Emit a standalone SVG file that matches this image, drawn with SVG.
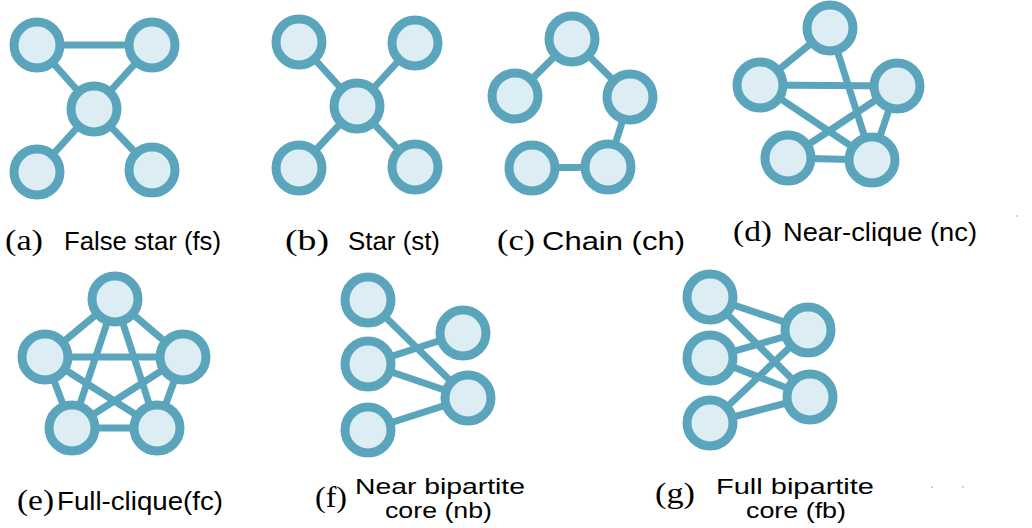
<svg xmlns="http://www.w3.org/2000/svg" width="1032" height="528" viewBox="0 0 1032 528">
<style>
.n{fill:#dcedf3;stroke:#5ba5bc;stroke-width:9}
.e{stroke:#5ba5bc;stroke-width:7;stroke-linecap:butt}
.s{font-family:"Liberation Serif",serif;font-size:29px;fill:#000}
.t{font-family:"Liberation Sans",sans-serif;font-size:25px;fill:#000}
.t2{font-family:"Liberation Sans",sans-serif;font-size:22px;fill:#000}
.dot{fill:#9a9a9a}
</style>
<rect width="1032" height="528" fill="#fff"/>
<g id="connectors">
<line class="e" x1="37" y1="45" x2="152" y2="45"/>
<line class="e" x1="37" y1="45" x2="94" y2="109"/>
<line class="e" x1="152" y1="45" x2="94" y2="109"/>
<line class="e" x1="94" y1="109" x2="37" y2="172"/>
<line class="e" x1="94" y1="109" x2="152" y2="170"/>
<line class="e" x1="299" y1="42" x2="357" y2="106"/>
<line class="e" x1="415" y1="43" x2="357" y2="106"/>
<line class="e" x1="357" y1="106" x2="299" y2="168"/>
<line class="e" x1="357" y1="106" x2="415" y2="167"/>
<line class="e" x1="515" y1="96" x2="572" y2="39"/>
<line class="e" x1="572" y1="39" x2="630" y2="97"/>
<line class="e" x1="630" y1="97" x2="608" y2="167"/>
<line class="e" x1="608" y1="167" x2="532" y2="168"/>
<line class="e" x1="830" y1="28" x2="760" y2="85"/>
<line class="e" x1="830" y1="28" x2="872" y2="160"/>
<line class="e" x1="760" y1="85" x2="897" y2="86"/>
<line class="e" x1="760" y1="85" x2="872" y2="160"/>
<line class="e" x1="897" y1="86" x2="788" y2="158"/>
<line class="e" x1="897" y1="86" x2="872" y2="160"/>
<line class="e" x1="788" y1="158" x2="872" y2="160"/>
<line class="e" x1="115" y1="299" x2="45" y2="357"/>
<line class="e" x1="115" y1="299" x2="183" y2="357"/>
<line class="e" x1="115" y1="299" x2="72" y2="428"/>
<line class="e" x1="115" y1="299" x2="157" y2="428"/>
<line class="e" x1="45" y1="357" x2="183" y2="357"/>
<line class="e" x1="45" y1="357" x2="72" y2="428"/>
<line class="e" x1="45" y1="357" x2="157" y2="428"/>
<line class="e" x1="183" y1="357" x2="72" y2="428"/>
<line class="e" x1="183" y1="357" x2="157" y2="428"/>
<line class="e" x1="72" y1="428" x2="157" y2="428"/>
<line class="e" x1="368" y1="300" x2="468" y2="398"/>
<line class="e" x1="368" y1="364" x2="463" y2="333"/>
<line class="e" x1="368" y1="364" x2="468" y2="398"/>
<line class="e" x1="368" y1="430" x2="468" y2="398"/>
<line class="e" x1="710" y1="297" x2="808" y2="330"/>
<line class="e" x1="710" y1="297" x2="810" y2="397"/>
<line class="e" x1="710" y1="358" x2="808" y2="330"/>
<line class="e" x1="710" y1="358" x2="810" y2="397"/>
<line class="e" x1="710" y1="423" x2="808" y2="330"/>
<line class="e" x1="710" y1="423" x2="810" y2="397"/>
</g>
<g id="a1"><circle class="n" cx="37" cy="45" r="23"/></g>
<g id="a2"><circle class="n" cx="152" cy="45" r="23"/></g>
<g id="a3"><circle class="n" cx="94" cy="109" r="23"/></g>
<g id="a4"><circle class="n" cx="37" cy="172" r="23"/></g>
<g id="a5"><circle class="n" cx="152" cy="170" r="23"/></g>
<g id="b1"><circle class="n" cx="299" cy="42" r="23"/></g>
<g id="b2"><circle class="n" cx="415" cy="43" r="23"/></g>
<g id="b3"><circle class="n" cx="357" cy="106" r="23"/></g>
<g id="b4"><circle class="n" cx="299" cy="168" r="23"/></g>
<g id="b5"><circle class="n" cx="415" cy="167" r="23"/></g>
<g id="c1"><circle class="n" cx="572" cy="39" r="23"/></g>
<g id="c2"><circle class="n" cx="630" cy="97" r="23"/></g>
<g id="c3"><circle class="n" cx="515" cy="96" r="23"/></g>
<g id="c4"><circle class="n" cx="532" cy="168" r="23"/></g>
<g id="c5"><circle class="n" cx="608" cy="167" r="23"/></g>
<g id="d1"><circle class="n" cx="830" cy="28" r="23"/></g>
<g id="d2"><circle class="n" cx="760" cy="85" r="23"/></g>
<g id="d3"><circle class="n" cx="897" cy="86" r="23"/></g>
<g id="d4"><circle class="n" cx="788" cy="158" r="23"/></g>
<g id="d5"><circle class="n" cx="872" cy="160" r="23"/></g>
<g id="e1"><circle class="n" cx="115" cy="299" r="23"/></g>
<g id="e2"><circle class="n" cx="45" cy="357" r="23"/></g>
<g id="e3"><circle class="n" cx="183" cy="357" r="23"/></g>
<g id="e4"><circle class="n" cx="72" cy="428" r="23"/></g>
<g id="e5"><circle class="n" cx="157" cy="428" r="23"/></g>
<g id="f1"><circle class="n" cx="368" cy="300" r="23"/></g>
<g id="f2"><circle class="n" cx="368" cy="364" r="23"/></g>
<g id="f3"><circle class="n" cx="368" cy="430" r="23"/></g>
<g id="f4"><circle class="n" cx="463" cy="333" r="23"/></g>
<g id="f5"><circle class="n" cx="468" cy="398" r="23"/></g>
<g id="g1"><circle class="n" cx="710" cy="297" r="23"/></g>
<g id="g2"><circle class="n" cx="710" cy="358" r="23"/></g>
<g id="g3"><circle class="n" cx="710" cy="423" r="23"/></g>
<g id="g4"><circle class="n" cx="808" cy="330" r="23"/></g>
<g id="g5"><circle class="n" cx="810" cy="397" r="23"/></g>
<g id="labels">
<text class="s" x="5" y="250" textLength="38" lengthAdjust="spacingAndGlyphs">(a)</text>
<text class="t" x="64" y="250" textLength="157" lengthAdjust="spacingAndGlyphs">False star (fs)</text>
<text class="s" x="285" y="250" textLength="44" lengthAdjust="spacingAndGlyphs">(b)</text>
<text class="t" x="348" y="250" textLength="92" lengthAdjust="spacingAndGlyphs">Star (st)</text>
<text class="s" x="497" y="250" textLength="38" lengthAdjust="spacingAndGlyphs">(c)</text>
<text class="t" x="542" y="250" textLength="143" lengthAdjust="spacingAndGlyphs">Chain (ch)</text>
<text class="s" x="733" y="241" textLength="39" lengthAdjust="spacingAndGlyphs">(d)</text>
<text class="t" x="783" y="241" textLength="194" lengthAdjust="spacingAndGlyphs">Near-clique (nc)</text>
<text class="s" x="17" y="510" textLength="37" lengthAdjust="spacingAndGlyphs">(e)</text>
<text class="t" x="57" y="510" textLength="166" lengthAdjust="spacingAndGlyphs">Full-clique(fc)</text>
<text class="s" x="315" y="507" textLength="32" lengthAdjust="spacingAndGlyphs">(f)</text>
<text class="t2" x="355" y="494" textLength="170" lengthAdjust="spacingAndGlyphs">Near bipartite</text>
<text class="t2" x="385" y="518" textLength="107" lengthAdjust="spacingAndGlyphs">core (nb)</text>
<text class="s" x="655" y="503" textLength="40" lengthAdjust="spacingAndGlyphs">(g)</text>
<text class="t2" x="716" y="494" textLength="158" lengthAdjust="spacingAndGlyphs">Full bipartite</text>
<text class="t2" x="746" y="518" textLength="100" lengthAdjust="spacingAndGlyphs">core (fb)</text>
</g>
<g id="specks">
<circle class="dot" cx="1017" cy="216" r="0.8"/>
<circle class="dot" cx="932" cy="487" r="0.8"/>
<circle class="dot" cx="963" cy="487" r="0.8"/>
</g>
</svg>
